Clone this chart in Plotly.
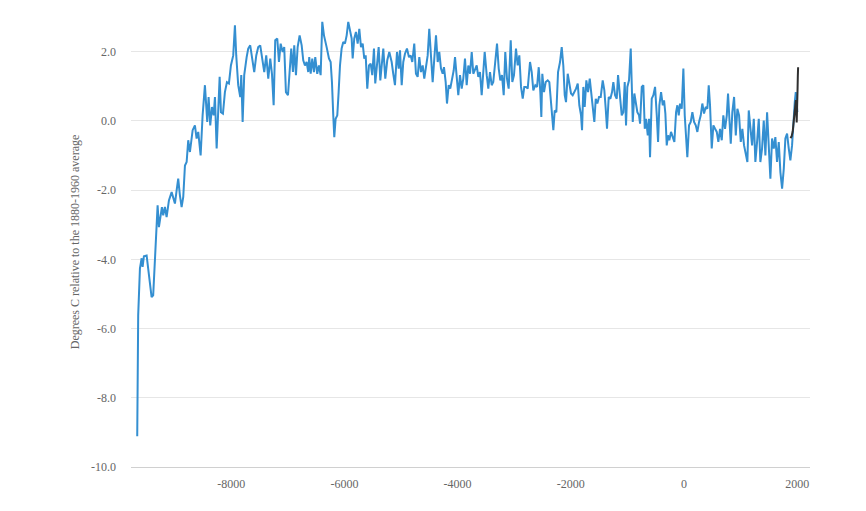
import plotly.graph_objects as go

# Holocene reconstruction (years, degrees C vs 1880-1960 mean)
years = [
    -9660, -9643, -9612, -9582, -9565, -9542, -9494, -9466, -9436, -9406,
    -9378, -9347, -9317, -9300, -9277, -9247, -9224, -9201, -9171, -9141,
    -9100, -9052, -9024, -8994, -8964, -8936, -8906, -8876, -8847, -8817,
    -8787, -8759, -8729, -8681, -8641, -8611, -8582, -8540, -8505, -8464,
    -8423, -8399, -8370, -8340, -8310, -8287, -8257, -8229, -8204,
    -8181, -8146, -8111, -8075, -8040, -8005, -7964, -7934, -7911, -7876,
    -7840, -7822, -7798, -7770, -7727, -7699, -7664, -7628, -7593, -7557,
    -7522, -7487, -7451, -7416, -7381, -7345, -7310, -7280, -7250, -7222,
    -7186, -7156, -7126, -7091, -7063, -7033, -6997, -6967, -6939, -6909,
    -6886, -6856, -6826, -6791,
    -6755, -6727, -6697, -6667, -6639, -6621, -6596, -6568, -6538, -6515,
    -6480, -6450, -6420, -6391, -6361, -6314, -6273, -6243, -6220, -6197,
    -6179, -6155, -6126, -6102, -6078, -6049, -6020, -5990, -5960, -5932,
    -5902, -5872, -5854, -5826, -5796, -5766, -5737, -5707, -5677, -5649,
    -5624, -5596, -5566, -5536, -5508, -5478, -5455, -5425, -5395, -5366,
    -5336, -5313, -5278, -5243, -5207,
    -5165, -5137, -5107, -5071, -5041, -5018, -4988, -4960, -4930, -4895,
    -4859, -4829, -4801, -4766, -4736, -4706, -4677, -4647, -4617, -4589,
    -4559, -4529, -4501, -4471, -4441, -4412, -4382, -4352, -4324, -4294,
    -4264, -4241, -4211, -4188, -4158, -4130, -4099, -4069, -4046, -4016,
    -3988, -3958, -3928, -3900, -3870, -3840, -3811, -3781, -3751, -3723,
    -3663, -3635, -3605, -3575, -3546, -3522, -3486, -3458, -3428, -3398,
    -3370, -3340, -3304, -3274, -3246, -3216, -3186, -3158, -3128, -3098,
    -3062, -3034, -3004, -2969, -2939, -2910, -2880, -2850, -2822, -2792,
    -2762, -2721, -2691, -2663, -2628, -2597, -2567, -2539, -2521, -2504,
    -2474, -2444, -2408, -2380, -2355, -2332, -2309, -2285, -2256, -2226,
    -2191, -2161, -2133, -2108, -2085, -2055, -2027, -1997, -1967, -1938,
    -1908, -1878, -1850, -1820, -1802, -1779, -1755, -1726, -1696, -1666,
    -1638, -1608, -1585, -1560, -1532, -1502, -1472, -1437, -1408, -1384,
    -1361, -1331, -1302, -1272, -1249, -1219, -1189, -1166, -1136, -1101,
    -1073, -1048, -1025, -1002, -972, -942, -924, -906, -878, -853,
    -825, -795, -777,
    -747, -719, -694, -671, -641, -618, -601, -571, -542, -512,
    -482, -459, -436, -406, -376, -353, -330, -306, -283, -260,
    -230, -200, -171, -141, -118, -94, -71, -41, -12, 12,
    35, 58, 88, 118, 147, 177, 207, 235, 265, 295,
    323, 353, 383, 412, 436, 459, 489, 518, 548, 578,
    606, 636, 666, 694, 724, 755, 777, 800, 825, 853,
    884, 914, 942, 972, 1002, 1030, 1060, 1090, 1119, 1143,
    1172, 1202, 1232, 1260, 1290, 1320, 1348, 1378, 1408, 1437,
    1467, 1497, 1525, 1555, 1585, 1613, 1643, 1673, 1702, 1732,
    1762, 1790, 1820, 1850, 1878, 1908, 1931, 1956, 1974, 1991, 2002,
]
temps = [
    -9.11, -5.62, -4.26, -3.97, -4.22, -3.91, -3.89, -4.26, -4.75, -5.09,
    -5.04, -3.89, -2.73, -2.44, -3.07, -2.73, -2.49, -2.73, -2.49, -2.78,
    -2.30, -2.06, -2.20, -2.39, -2.01, -1.67, -2.15, -2.49, -2.20, -1.29,
    -1.19, -0.56, -0.90, -0.27, -0.13, -0.51, -0.32, -1.00, 0.16, 1.03,
    -0.03, 0.69, -0.13, 0.40, 0.16, 0.69, -0.80, 0.54, 1.27,
    0.25, 0.21, 0.83, 1.12, 1.08, 1.60, 1.89, 2.76, 1.89, 1.03,
    0.69, 1.32, -0.03, 1.32, 1.84, 2.09, 2.18, 1.80, 1.41, 1.89,
    2.13, 2.18, 1.80, 1.41, 1.89, 1.22, 1.80, 1.36, 0.45, 2.33,
    2.38, 1.70, 2.23, 1.99, 2.13, 0.83, 0.74, 1.60, 2.09, 1.41,
    2.18, 1.32, 2.13, 2.47,
    2.18, 1.75, 1.60, 1.70, 1.41, 1.84, 1.36, 1.80, 1.41, 1.84,
    1.36, 1.60, 1.32, 2.86, 2.47, 2.13, 1.80, 1.70, 1.12, 0.16,
    -0.47, 0.06, 0.16, 0.83, 1.60, 2.09, 2.28, 2.23, 2.47, 2.86,
    2.57, 2.38, 1.80, 2.38, 2.57, 2.23, 2.66, 2.13, 2.23, 1.80,
    1.89, 0.93, 1.60, 1.65, 1.32, 2.09, 1.08, 1.55, 2.13, 1.17,
    1.60, 2.09, 1.22, 1.75, 1.99,
    1.70, 1.36, 1.03, 1.99, 1.51, 2.04, 1.03, 1.70, 1.94, 2.09,
    1.84, 1.89, 1.70, 2.23, 1.36, 1.27, 1.84, 1.41, 1.60, 1.22,
    1.65, 1.89, 2.66, 1.70, 1.12, 1.80, 2.47, 1.70, 1.99, 1.51,
    1.36, 1.55, 1.12, 0.50, 1.03, 0.93, 1.22, 1.46, 1.84, 1.22,
    0.74, 1.32, 0.93, 1.22, 1.80, 1.03, 1.60, 1.36, 1.99, 1.36,
    1.60, 1.27, 1.41, 0.74, 1.41, 1.99, 1.32, 0.93, 1.41, 1.03,
    1.12, 1.60, 2.23, 1.51, 1.17, 1.32, 0.74, 1.99, 1.22, 0.93,
    2.33, 1.12, 1.32, 2.09, 1.60, 1.89, 0.98, 0.64, 0.98, 0.98,
    0.93, 1.70, 1.41, 0.88, 1.03, 0.98, 1.55, 0.83, 0.11, 1.36,
    0.83, 1.12, 1.17, 1.12, 0.54, 0.21, -0.27, 0.30, 0.25, 1.41,
    1.70, 2.13, 1.60, 0.74, 0.54, 1.36, 1.03, 0.79, 0.74, 0.83,
    0.93, 1.08, 0.45, 0.16, -0.27, 0.98, 0.40, 1.17, 0.83, 1.22,
    0.83, 0.45, -0.03, 0.64, 0.50, 0.69, 0.69, 1.17, 0.88, 0.35,
    -0.23, 0.69, 0.64, 0.83, 1.12, 0.74, 0.64, 1.32, 0.83, 0.16,
    0.25, 1.12, -0.13, 0.98, 1.17, 2.09, 1.08, -0.03, 0.79, 0.54,
    0.25, 0.16, -0.08,
    0.98, 1.03, -0.23, 0.06, -0.42, 0.06, -1.05, 0.64, 0.74, 0.98,
    0.16, -0.61, 0.45, 0.83, 0.45, 0.59, 0.21, -0.71, -0.42, -0.56,
    -0.32, -0.51, -0.61, 0.25, 0.45, 0.16, 0.50, 0.35, 1.51, 0.16,
    -0.42, -1.05, -0.13, -0.03, 0.25, -0.03, -0.13, -0.32, -0.03, 0.16,
    0.50, 0.21, 0.40, 0.35, 1.03, 0.45, -0.80, -0.13, -0.23, -0.32,
    -0.61, -0.23, -0.56, 0.16, -0.23, 0.16, 0.79, -0.13, -0.66, 0.25,
    0.69, -0.42, 0.35, 0.16, -0.61, -0.23, -0.71, -0.95, -1.19, 0.30,
    -0.13, -0.71, 0.06, -1.19, -0.61, 0.06, -1.19, -0.80, 0.01, -1.00,
    0.25, -0.61, -1.67, -0.51, -0.80, -0.47, -1.19, -0.61, -1.48, -1.96,
    -1.38, -0.51, -0.37, -0.80, -1.14, -0.71, 0.06, 0.54, 0.83, 0.45, 0.25,
]

# Instrumental record, drawn in black on top
inst_years = [1880, 1900, 1920, 1940, 1960, 1975, 1990, 2000, 2005, 2010, 2015]
inst_temps = [-0.50, -0.45, -0.30, 0.00, 0.30, 0.60, -0.05, 0.30, 0.90, 1.30, 1.55]

x_ticks = [-8000, -6000, -4000, -2000, 0, 2000]
y_ticks = [-10, -8, -6, -4, -2, 0, 2]

FONT = "Liberation Serif"
GREY = "#666666"

fig = go.Figure()
fig.add_trace(go.Scatter(
    x=years, y=temps, mode="lines",
    line=dict(color="#348fd1", width=2),
    hoverinfo="skip",
))
fig.add_trace(go.Scatter(
    x=inst_years, y=inst_temps, mode="lines",
    line=dict(color="#303030", width=2),
    hoverinfo="skip",
))

# the page body adds an 8px offset, so the figure is a bit smaller than the window
fig.update_layout(
    width=858, height=503,
    margin=dict(l=123, r=56, t=9, b=44),
    paper_bgcolor="white",
    plot_bgcolor="white",
    showlegend=False,
    font=dict(family=FONT, size=12, color=GREY),
)
fig.update_xaxes(
    range=[-9770, 2225],
    tickvals=x_ticks,
    ticktext=[str(v) for v in x_ticks],
    showgrid=False,
    zeroline=False,
    showline=True, linecolor="#d0d0d0", linewidth=1,
    ticks="", ticklabelstandoff=6,
    tickfont=dict(family=FONT, size=12, color=GREY),
)
fig.update_yaxes(
    range=[-10, 3],
    tickvals=y_ticks,
    ticktext=[f"{v:.1f}" for v in y_ticks],
    showgrid=True, gridcolor="#e6e6e6", gridwidth=1,
    zeroline=False,
    showline=False,
    ticks="", ticklabelstandoff=14,
    tickfont=dict(family=FONT, size=12, color=GREY),
    title=dict(
        text="Degrees C relative to the 1880-1960 average",
        font=dict(family=FONT, size=12, color=GREY),
        standoff=8,
    ),
    automargin=False,
)

fig.write_html("out.html")
